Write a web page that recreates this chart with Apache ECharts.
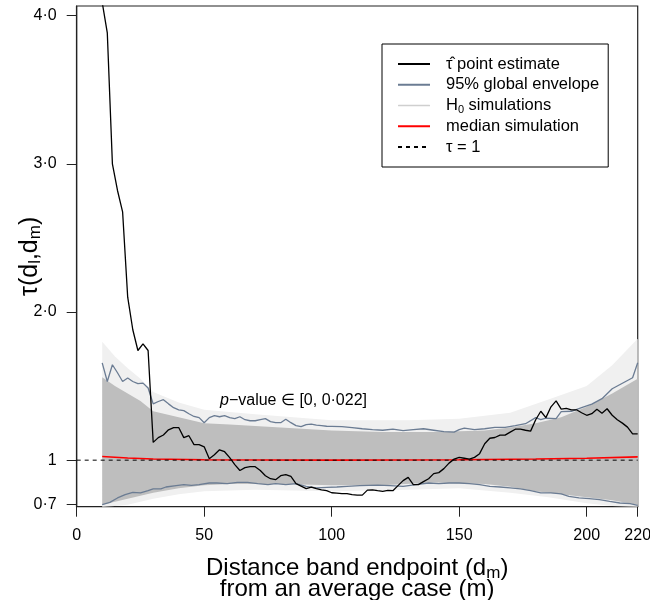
<!DOCTYPE html>
<html><head><meta charset="utf-8">
<script src="https://cdn.jsdelivr.net/npm/echarts@6/dist/echarts.min.js"></script>
<style>html,body{margin:0;padding:0;background:#fff}#c{width:650px;height:600px}</style>
</head><body><div id="c"></div>
<script>
// ---- data ----
const X_TICKS = [0, 50, 100, 150, 200, 220];
const Y_TICKS = [0.7, 1, 2, 3, 4];
const Y_TICK_LABELS = ['0·7', '1', '2·0', '3·0', '4·0'];
const TAU_REF = 1;

const EST_D = [10,12,14,16,18,20,22,24,26,28,30,32,34,36,38,40,42,44,46,48,50,52,54,56,58,60,62,64,66,68,70,72,74,76,78,80,82,84,86,88,90,92,94,96,98,100,102,104,106,108,110,112,114,116,118,120,122,124,126,128,130,132,134,136,138,140,142,144,146,148,150,152,154,156,158,160,162,164,166,168,170,172,174,176,178,180,182,184,186,188,190,192,194,196,198,200,202,204,206,208,210,212,214,216,218,220];
const EST_TAU = [4.09,3.883,3.00,2.82,2.676,2.10,1.88,1.74,1.785,1.74,1.12,1.152,1.17,1.205,1.22,1.22,1.152,1.165,1.105,1.105,1.09,1.01,1.037,1.07,1.057,1.017,0.97,0.93,0.95,0.956,0.956,0.93,0.895,0.875,0.868,0.895,0.902,0.89,0.842,0.825,0.808,0.818,0.808,0.80,0.794,0.78,0.777,0.774,0.774,0.767,0.764,0.764,0.798,0.80,0.794,0.79,0.796,0.794,0.828,0.862,0.884,0.835,0.835,0.855,0.875,0.909,0.916,0.943,0.98,1.007,1.019,1.013,1.007,1.019,1.044,1.111,1.148,1.153,1.169,1.169,1.189,1.209,1.209,1.202,1.196,1.273,1.33,1.287,1.36,1.40,1.344,1.35,1.34,1.34,1.32,1.303,1.314,1.344,1.317,1.347,1.303,1.273,1.25,1.223,1.177,1.177];

const ENV_UP_D = [10,12,14,16,18,20,22,24,26,28,30,32,34,36,38,40,42,44,46,48,50,52,54,56,58,60,62,64,66,68,70,72,74,76,78,80,82,84,86,88,90,92,94,96,98,100,104,108,112,116,120,124,128,132,136,140,144,148,150,152,156,160,164,168,172,176,180,182,184,188,190,194,198,202,206,210,214,218,220];
const ENV_UP = [1.657,1.531,1.644,1.59,1.531,1.554,1.531,1.516,1.52,1.487,1.38,1.396,1.408,1.38,1.354,1.34,1.334,1.313,1.295,1.287,1.253,1.287,1.30,1.293,1.30,1.287,1.28,1.293,1.273,1.266,1.266,1.273,1.28,1.26,1.253,1.253,1.276,1.253,1.233,1.226,1.24,1.243,1.236,1.233,1.229,1.228,1.226,1.219,1.212,1.206,1.202,1.209,1.199,1.206,1.212,1.202,1.192,1.189,1.206,1.216,1.206,1.212,1.221,1.221,1.233,1.246,1.287,1.273,1.283,1.28,1.327,1.33,1.354,1.378,1.415,1.482,1.519,1.556,1.657];

const ENV_LO_D = [10,13,16,19,22,25,28,30,33,35,39,42,45,48,52,55,59,63,67,71,75,78,82,86,90,94,98,102,106,111,118,123,128,133,138,142,146,150,154,158,162,166,170,174,178,182,186,190,193,197,201,205,209,213,217,220];
const ENV_LO = [0.70,0.715,0.745,0.767,0.783,0.779,0.794,0.806,0.806,0.819,0.828,0.835,0.83,0.835,0.846,0.846,0.842,0.85,0.85,0.842,0.835,0.842,0.835,0.842,0.823,0.813,0.817,0.819,0.823,0.828,0.832,0.828,0.823,0.835,0.846,0.842,0.846,0.846,0.842,0.835,0.823,0.819,0.813,0.806,0.794,0.779,0.779,0.772,0.756,0.745,0.74,0.734,0.722,0.711,0.707,0.695];

const MED_D = [10,20,30,50,100,150,180,200,220];
const MED = [1.025,1.015,1.008,1.003,1.0,1.003,1.008,1.013,1.022];

const CORE_D  = [10,15,20,25,30,40,50,60,80,100,120,140,160,170,180,190,200,210,220];
const CORE_LO = [0.70,0.72,0.74,0.76,0.78,0.81,0.83,0.84,0.84,0.83,0.83,0.85,0.84,0.82,0.79,0.77,0.75,0.73,0.70];
const CORE_HI = [1.56,1.50,1.45,1.40,1.33,1.29,1.25,1.24,1.22,1.20,1.19,1.19,1.20,1.22,1.25,1.29,1.36,1.45,1.55];

const OUTER_D  = [10,15,20,25,30,40,50,70,100,130,150,170,185,200,210,220];
const OUTER_LO = [0.686,0.69,0.70,0.72,0.74,0.77,0.79,0.80,0.79,0.80,0.81,0.78,0.75,0.71,0.69,0.686];
const OUTER_HI = [1.80,1.70,1.62,1.55,1.46,1.39,1.34,1.31,1.27,1.27,1.28,1.32,1.41,1.50,1.64,1.82];

const X_MIN = 0, X_MAX = 220, Y_MIN = 0.686, Y_MAX = 4.065;
const P_LABEL_AT = [56.2, 1.405];

// ---- helpers ----
const pairs = (xs, ys) => xs.map((x, i) => [x, ys[i]]);
const FONT = "'Liberation Sans', Arial, Helvetica, sans-serif";

function bandSeries(name, xs, lo, hi, fill, legendColor, z) {
  return {
    type: 'custom', name: name, silent: true, z: z,
    itemStyle: {color: legendColor},
    data: xs.map((x, i) => [x, lo[i], hi[i]]),
    encode: {x: 0, y: [1, 2]},
    renderItem: (params, api) => {
      if (params.dataIndex !== 0) return null;
      const top = xs.map((x, i) => api.coord([x, hi[i]]));
      const bot = xs.map((x, i) => api.coord([x, lo[i]])).reverse();
      return {type: 'polygon', shape: {points: top.concat(bot)}, style: {fill: fill, stroke: null}};
    }
  };
}

const chart = echarts.init(document.getElementById('c'), null, {renderer: 'canvas'});

const legendText = {
  est: '{n|τ̂ point estimate}',
  env: '{n|95% global envelope}',
  sim: '{n|H}{s|0}{n| simulations}',
  med: '{n|median simulation}',
  ref: '{n|τ = 1}'
};

chart.setOption({
  animation: false,
  backgroundColor: '#fff',
  textStyle: {fontFamily: FONT},
  grid: {left: 76.7, right: 12.3, top: 6, bottom: 93.3, show: true, borderColor: '#222', borderWidth: 1.2,
         containLabel: false, outerBoundsMode: 'none'},
  xAxis: {
    type: 'value', min: X_MIN, max: X_MAX,
    splitLine: {show: false},
    axisLine: {show: true, lineStyle: {color: '#222', width: 1.2}},
    axisTick: {show: true, length: 10, inside: false, customValues: X_TICKS, lineStyle: {color: '#222', width: 1}},
    axisLabel: {show: true, customValues: X_TICKS, margin: 21, fontSize: 16, color: '#000', fontFamily: FONT, hideOverlap: false},
    name: '{a|Distance band endpoint (d}{s|m}{a|)}\n{a|from an average case (m)}',
    nameLocation: 'middle', nameGap: 51, nameMoveOverlap: false,
    nameTextStyle: {
      color: '#000', fontFamily: FONT, fontSize: 24, lineHeight: 21,
      rich: {
        a: {fontSize: 24, lineHeight: 21, color: '#000', fontFamily: FONT},
        s: {fontSize: 17, lineHeight: 21, color: '#000', fontFamily: FONT, padding: [10, 0, 0, 0]}
      }
    }
  },
  yAxis: {
    type: 'value', min: Y_MIN, max: Y_MAX,
    splitLine: {show: false},
    axisLine: {show: true, lineStyle: {color: '#222', width: 1.2}},
    axisTick: {show: true, length: 10, inside: false, customValues: Y_TICKS, lineStyle: {color: '#222', width: 1}},
    axisLabel: {
      show: true, customValues: Y_TICKS, margin: 20, fontSize: 16, color: '#000', fontFamily: FONT, hideOverlap: false,
      formatter: v => { const i = Y_TICKS.findIndex(t => Math.abs(t - v) < 1e-9); return i >= 0 ? Y_TICK_LABELS[i] : ''; }
    },
    name: '{a|τ(d}{s|l}{a|,d}{s|m}{a|)}',
    nameLocation: 'middle', nameGap: 33, nameRotate: 90, nameMoveOverlap: false,
    nameTextStyle: {
      color: '#000', fontFamily: FONT, fontSize: 25,
      rich: {
        a: {fontSize: 25, color: '#000', fontFamily: FONT},
        s: {fontSize: 17, color: '#000', fontFamily: FONT, padding: [10, 0, 0, 0]}
      }
    }
  },
  legend: {
    left: 382, top: 44, orient: 'vertical',
    padding: [10, 9, 10, 15],
    borderColor: '#000', borderWidth: 1, backgroundColor: '#fff',
    itemWidth: 32, itemHeight: 1.5, itemGap: 0.75,
    itemStyle: {opacity: 0},
    selectedMode: false,
    data: [
      {name: 'est'},
      {name: 'env'},
      {name: 'sim', itemStyle: {color: '#cfcfcf', opacity: 1}},
      {name: 'med'},
      {name: 'ref'}
    ],
    formatter: name => legendText[name],
    textStyle: {
      fontSize: 16.5, color: '#000', fontFamily: FONT, lineHeight: 20, padding: [0, 0, 0, 11],
      rich: {
        n: {fontSize: 16.5, color: '#000', fontFamily: FONT, lineHeight: 20},
        s: {fontSize: 11, color: '#000', fontFamily: FONT, lineHeight: 20, padding: [8, 0, 0, 0]}
      }
    }
  },
  series: [
    bandSeries('outerBand', OUTER_D, OUTER_LO, OUTER_HI, '#f0f0f0', '#f0f0f0', 1),
    bandSeries('sim', CORE_D, CORE_LO, CORE_HI, '#bebebe', '#cfcfcf', 2),
    {type: 'line', name: 'env', symbol: 'none', z: 3, color: '#6b7c93',
     lineStyle: {color: '#6b7c93', width: 1.3}, data: pairs(ENV_UP_D, ENV_UP)},
    {type: 'line', name: 'env', symbol: 'none', z: 3, color: '#6b7c93',
     lineStyle: {color: '#6b7c93', width: 1.3}, data: pairs(ENV_LO_D, ENV_LO)},
    {type: 'line', name: 'med', symbol: 'none', z: 4, color: '#ff0000',
     lineStyle: {color: '#ff0000', width: 1.6}, data: pairs(MED_D, MED)},
    {type: 'line', name: 'ref', symbol: 'none', z: 5, color: '#000',
     lineStyle: {color: '#000', width: 1, type: [4, 4]}, data: [[X_MIN, TAU_REF], [X_MAX, TAU_REF]]},
    {type: 'line', name: 'est', symbol: 'none', z: 6, color: '#000', clip: true,
     lineStyle: {color: '#000', width: 1.3}, data: pairs(EST_D, EST_TAU)}
  ]
});

const pt = chart.convertToPixel({gridIndex: 0}, P_LABEL_AT);
chart.setOption({
  graphic: [{
    type: 'text', x: pt[0], y: pt[1], z: 10,
    style: {
      text: '{i|p}{n|−value ∈ [0, 0·022]}',
      verticalAlign: 'middle', align: 'left',
      rich: {
        i: {fontSize: 16, fontStyle: 'italic', fontFamily: FONT, fill: '#000'},
        n: {fontSize: 16, fontFamily: FONT, fill: '#000'}
      }
    }
  }]
});
</script>
</body></html>
